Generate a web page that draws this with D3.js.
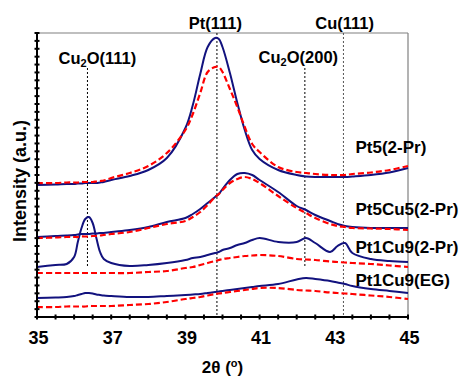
<!DOCTYPE html>
<html>
<head>
<meta charset="utf-8">
<script src="https://cdn.jsdelivr.net/npm/d3@7"></script>
<style>
  html, body { margin: 0; padding: 0; background: #fff; }
  svg { display: block; font-family: "Liberation Sans", Arial, sans-serif; font-weight: bold; }
</style>
</head>
<body>
<svg id="chart" width="462" height="378"></svg>
<script>
// ---------- data ----------
const theta = [35,35.5,35.8,36,36.1,36.2,36.3,36.4,36.5,36.6,36.7,36.8,37,37.5,38,38.5,39,39.2,39.4,39.6,39.8,39.9,40,40.2,40.4,40.6,40.8,41,41.5,42,42.25,42.5,42.9,43.1,43.3,43.5,44,44.5,45];

// solid (before) and dashed (after) curves, intensity a.u.
const pt5Solid     = [132,132.5,133,133,133.5,133.5,134,134,134,134,134.5,135,137, 141,147,159,189,212,243,270,279,278,270, 244,214,187,167,158,147,142,140.5,140,140, 140,140,140.5,142,144.5,149];
const pt5Dashed    = [134,134,134.5,134.5,134.5,135,135,135,135,135.5,136,136.5,139, 144,151,164,187,203,224,245,250,250,245, 228,210,190,173,165,150,145,144,143,142, 142,142,143,144.5,147,151];
const pt5cu5Solid  = [80,81,81.5,82,82.5,83,83,83,83.5,83.5,84,84,85, 87,90,95,99,103,108,114,120,123,128, 137,143,144,142,137,125,111,107,102,96, 93,91,90,89,89,89];
const pt5cu5Dashed = [79,79.5,80,80,80,80.5,80.5,80.5,81,81,81.5,82,83, 85,89,93,96,100,105,112,120,123,127, 134,138,140,138,134,121,109,104,99,93, 91,90,89,88.5,88,87];
const pt1cu9Solid  = [50,52,53,60,75,89,98,100,94,79,65,58,54, 51,52,54,57,59,60,62,64,65,67, 69,72,74,77,79,75,75,79,74,65, 71,74,64,58,56,55];
const pt1cu9Dashed = [44,44,44,44,44,44,44,44,44,44,44,44,44, 44,45,46,49,50,52,54,56,57,58, 59,60,61,61.5,62,61,58,57.5,57,55.5, 55,54.5,54,53,51.5,50];
const egSolid      = [19,19.5,20,21,22,23,24,24,23.5,22.5,22,21.5,21, 20,20,21,22,22.5,23,24,25,25.5,26, 27,28,29,30,31,33,37.5,39,38,36, 34.5,33,31,28,26,24];
const egDashed     = [10,10,10.5,10.5,10.5,10.5,10.5,11,11,11,11,11,11, 12,13,15,18,19,20,21.5,23,23.5,24, 25,26,27,28,29,29,27,26.5,26,24.5, 24,23.5,23,21.5,20,18];

const sampleNames = ["Pt5(2-Pr)", "Pt5Cu5(2-Pr)", "Pt1Cu9(2-Pr)", "Pt1Cu9(EG)"];

// reference reflections
const refMain  = ["Cu", "Pt(111)", "Cu", "Cu(111)"];
const refSub   = ["2", "", "2", ""];
const refTail  = ["O(111)", "", "O(200)", ""];
const refTheta = [36.36, 39.85, 42.22, 43.26];

const xTickLabels = [35, 37, 39, 41, 43, 45];

// ---------- layout ----------
const svg = d3.select("#chart");
const L = 37, R = 408, T = 33, B = 317;
const x = d3.scaleLinear().domain([35, 45]).range([L, R]);
const y = d3.scaleLinear().domain([0, 284]).range([B, T]);

// frame (top/right grey)
svg.append("line").attr("x1", L).attr("x2", R).attr("y1", T).attr("y2", T)
  .attr("stroke", "#808080").attr("stroke-width", 1.2);
svg.append("line").attr("x1", R).attr("x2", R).attr("y1", T).attr("y2", B)
  .attr("stroke", "#808080").attr("stroke-width", 1.2);

// reference dotted lines
const refTop = [249, 284, 249, 284];
const refBot = [50, 0, 50, 0];
const refColor = ["#000", "#000", "#000", "#555"];
svg.append("g").selectAll("line").data(refTheta).join("line")
  .attr("x1", d => x(d)).attr("x2", d => x(d))
  .attr("y1", (d, i) => y(refTop[i])).attr("y2", (d, i) => y(refBot[i]))
  .attr("stroke", (d, i) => refColor[i]).attr("stroke-width", 1)
  .attr("stroke-dasharray", "2,2");

// curves
const line = d3.line().x((d, i) => x(theta[i])).y(d => y(d)).curve(d3.curveCatmullRom.alpha(0.5));
const solids = [pt5Solid, pt5cu5Solid, pt1cu9Solid, egSolid];
const dashes = [pt5Dashed, pt5cu5Dashed, pt1cu9Dashed, egDashed];
svg.append("g").selectAll("path").data(solids).join("path")
  .attr("d", d => line(d)).attr("fill", "none")
  .attr("stroke", "#12127e").attr("stroke-width", 2);
svg.append("g").selectAll("path").data(dashes).join("path")
  .attr("d", d => line(d)).attr("fill", "none")
  .attr("stroke", "#ff0000").attr("stroke-width", 2.2)
  .attr("stroke-dasharray", "6,3");

// axes lines
svg.append("line").attr("x1", L).attr("x2", R).attr("y1", B).attr("y2", B)
  .attr("stroke", "#000").attr("stroke-width", 2);
svg.append("line").attr("x1", L).attr("x2", L).attr("y1", T).attr("y2", B)
  .attr("stroke", "#000").attr("stroke-width", 2);

// bottom ticks every 0.5
const xt = d3.range(35, 45.01, 0.5);
svg.append("g").selectAll("line").data(xt).join("line")
  .attr("x1", d => x(d)).attr("x2", d => x(d))
  .attr("y1", B - 2.5).attr("y2", B + 2.5)
  .attr("stroke", "#000").attr("stroke-width", 2);
// left ticks
const yt = d3.range(0, 37).map(i => i * 284 / 36);
svg.append("g").selectAll("line").data(yt).join("line")
  .attr("x1", L - 2.5).attr("x2", L + 2.5)
  .attr("y1", d => y(d)).attr("y2", d => y(d))
  .attr("stroke", "#000").attr("stroke-width", 2);

// x tick labels
svg.append("g").selectAll("text").data(xTickLabels).join("text")
  .attr("x", d => x(d) + 1.5).attr("y", 344)
  .attr("text-anchor", "middle").attr("font-size", 18).attr("fill", "#000")
  .text(d => d);

// axis titles
const xt2 = svg.append("text").attr("x", (L + R) / 2).attr("y", 373)
  .attr("text-anchor", "middle").attr("font-size", 17).attr("fill", "#000");
xt2.append("tspan").text("2θ (");
xt2.append("tspan").attr("font-size", 11).attr("dy", -6).text("o");
xt2.append("tspan").attr("dy", 6).text(")");

svg.append("text").attr("transform", "translate(26,181) rotate(-90)")
  .attr("text-anchor", "middle").attr("font-size", 18).attr("fill", "#000")
  .text("Intensity (a.u.)");

// reference labels
const refDx = [10, -1.5, -6.5, 1.2];
const refBase = [64, 29, 63, 29];
const refG = svg.append("g").selectAll("text").data(refTheta).join("text")
  .attr("x", (d, i) => x(d) + refDx[i]).attr("y", (d, i) => refBase[i])
  .attr("text-anchor", "middle").attr("font-size", 16.5).attr("fill", "#000");
refG.each(function(d, i) {
  const t = d3.select(this);
  t.append("tspan").text(refMain[i]);
  if (refSub[i]) {
    t.append("tspan").attr("font-size", 11).attr("dy", 3).text(refSub[i]);
    t.append("tspan").attr("dy", -3).text(refTail[i]);
  }
});

// sample labels
const sampleBase = [153, 215, 253, 286];
svg.append("g").selectAll("text").data(sampleNames).join("text")
  .attr("x", 355.5).attr("y", (d, i) => sampleBase[i])
  .attr("font-size", 17).attr("fill", "#000")
  .text(d => d);
</script>
</body>
</html>
